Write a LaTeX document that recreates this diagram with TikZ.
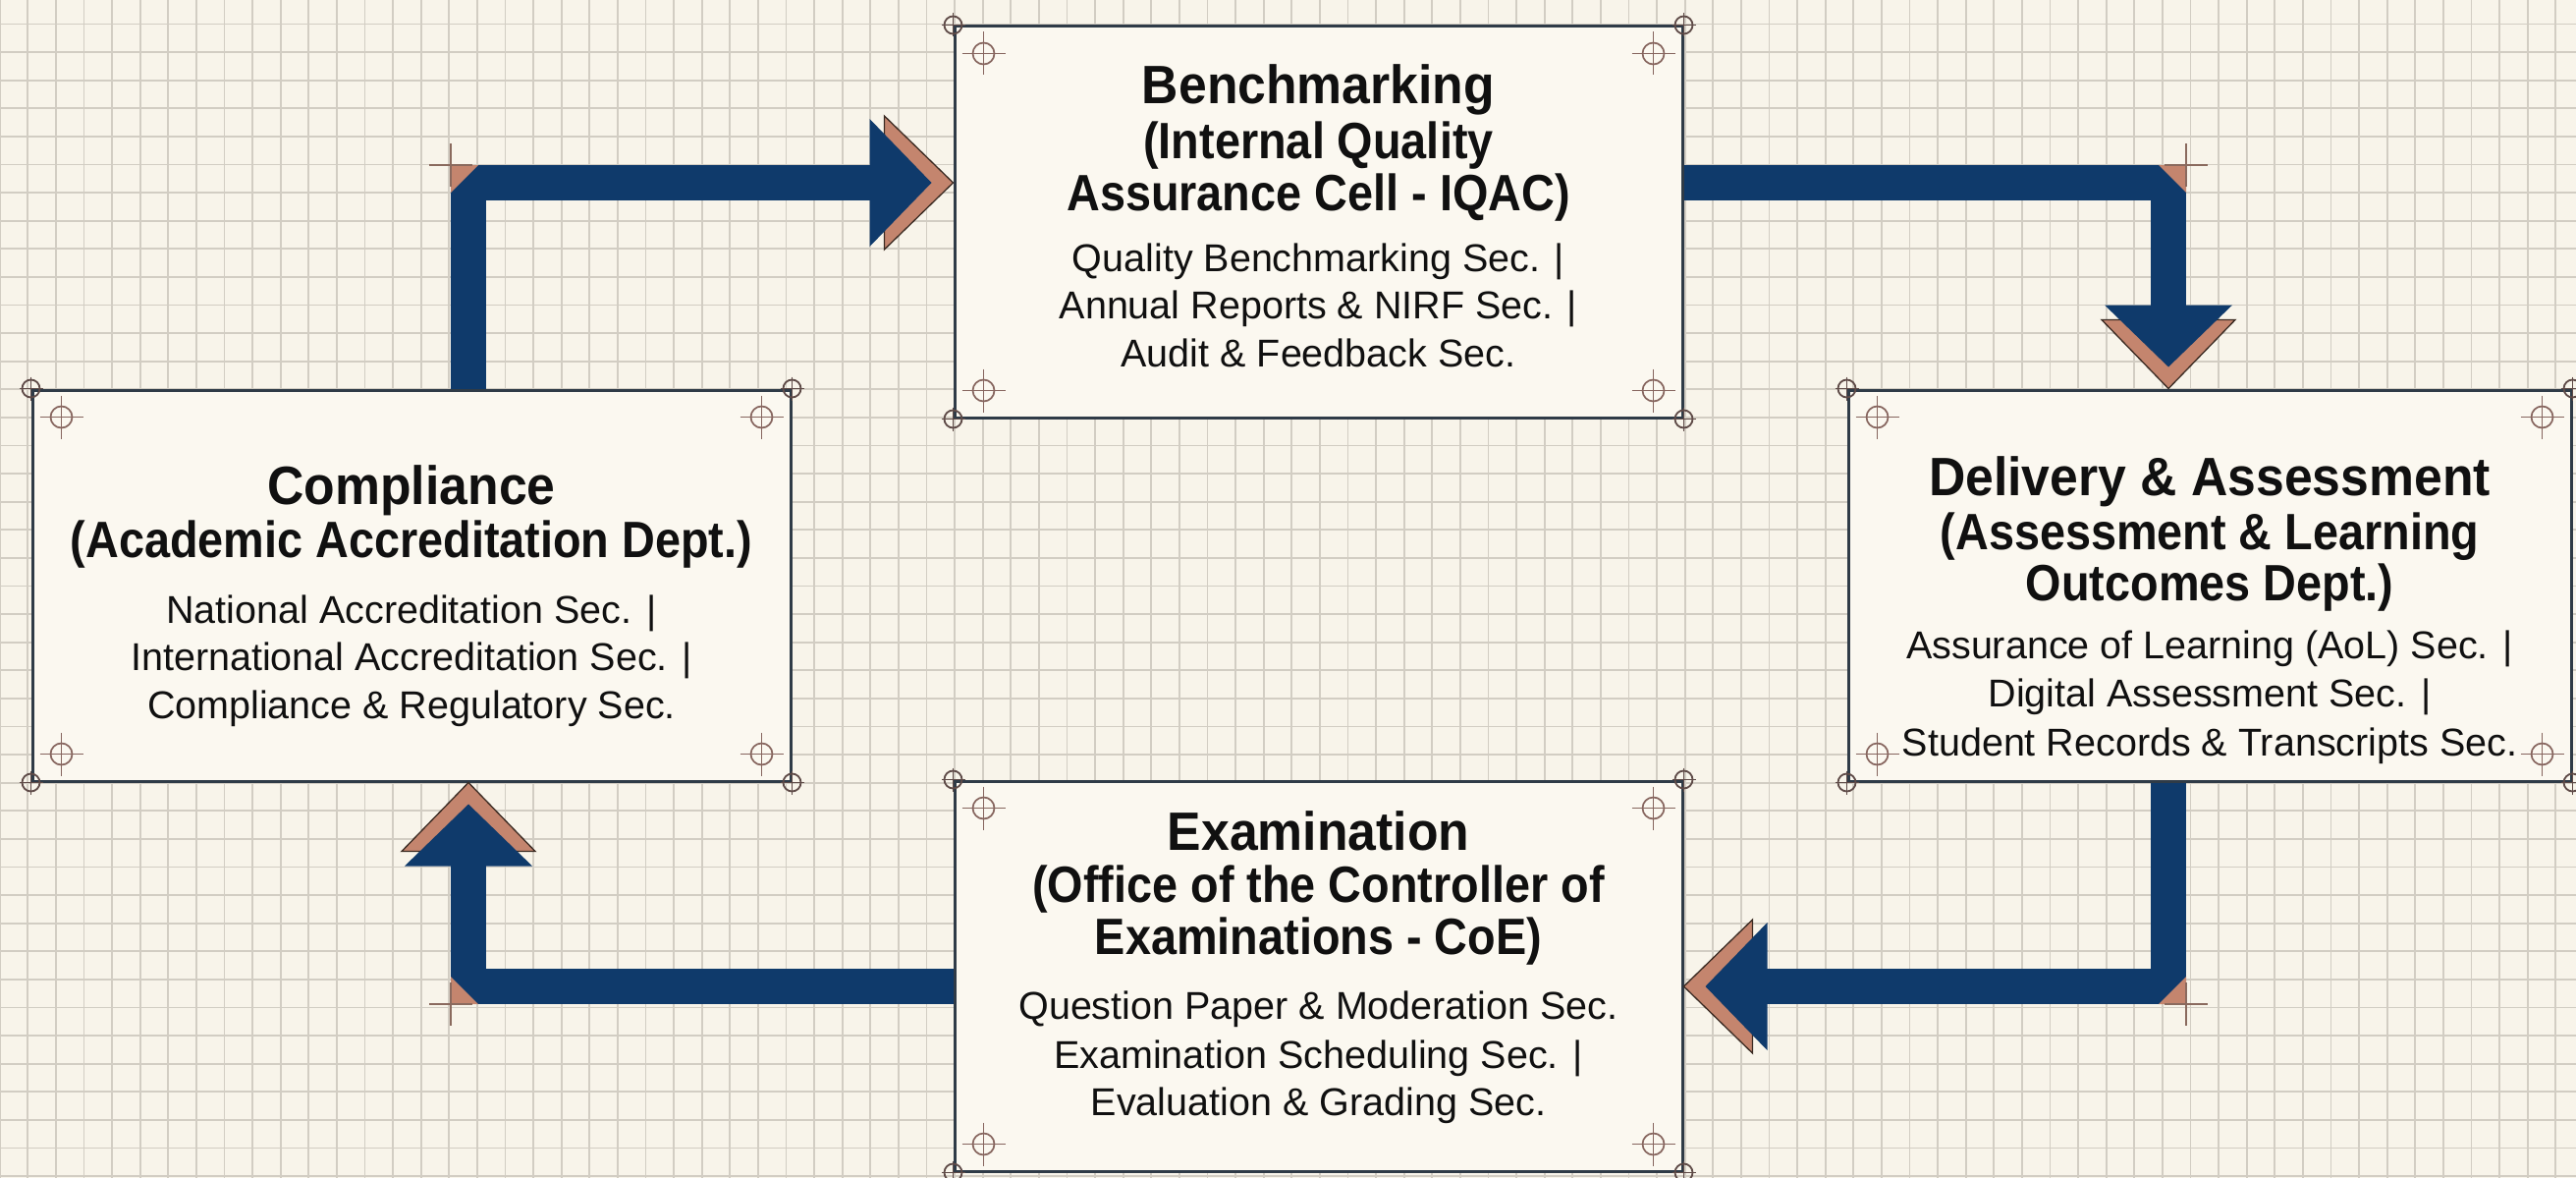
\documentclass[tikz,border=0pt]{standalone}
\usepackage{fontspec}
\setmainfont{Liberation Sans}
\newfontfamily\ttlfont[FakeStretch=0.94]{Liberation Sans}
\newfontfamily\subfont[FakeStretch=0.9]{Liberation Sans}
\usetikzlibrary{calc}
\definecolor{bgc}{HTML}{F8F4EA}
\definecolor{boxfill}{HTML}{FBF8F0}
\definecolor{gridc}{HTML}{D2CDC3}
\definecolor{navy}{HTML}{0F3A6B}
\definecolor{tanc}{HTML}{C4856E}
\definecolor{tanline}{HTML}{3A2A22}
\definecolor{borderc}{HTML}{2F3B47}
\definecolor{markc}{HTML}{5E4A47}
\definecolor{targc}{HTML}{86655E}
\definecolor{crossc}{HTML}{8A6A5E}
\definecolor{inkc}{HTML}{101010}
\tikzset{
  gridline/.style={draw=gridc, line width=1.8},
  box/.style={draw=borderc, fill=boxfill, line width=3, rectangle, inner sep=0},
  ttl/.style={anchor=base, inner sep=0, text=inkc, font=\ttlfont\bfseries\fontsize{55}{60}\selectfont},
  subt/.style={anchor=base, inner sep=0, text=inkc, font=\subfont\bfseries\fontsize{52}{56}\selectfont},
  bod/.style={anchor=base, inner sep=0, text=inkc, font=\fontsize{39.5}{45}\selectfont},
  bar/.style={draw=navy, line width=36, line join=miter, line cap=butt},
  headtan/.style={fill=tanc, draw=tanline, line width=1.3, line join=miter},
  headnavy/.style={fill=navy},
  elbowtan/.style={fill=tanc},
  elbowcross/.style={draw=crossc, line width=1.6},
  regmark/.pic={\draw[markc, line width=1.8] (0,0) circle (9);
                \draw[markc, line width=1.5] (-12,0) -- (12,0) (0,-12) -- (0,12);},
  target/.pic={\draw[targc, line width=1.7] (0,0) circle (11);
               \draw[targc, line width=1.5] (-22,0) -- (22,0) (0,-22) -- (0,22);}
}
\newcommand\flowhead[2]{%
  \begin{scope}[shift={(#1)}, rotate=#2]
    \path[headtan] (0,0) -- (-70,68) -- (-70,-68) -- cycle;
    \path[headnavy] (-22,0) -- (-85,65) -- (-85,-65) -- cycle;
  \end{scope}}
\newcommand\boxmarks[1]{%
  \pic at (#1.north west) {regmark};
  \pic at (#1.north east) {regmark};
  \pic at (#1.south west) {regmark};
  \pic at (#1.south east) {regmark};
  \pic at ($(#1.north west)+(31,29)$) {target};
  \pic at ($(#1.north east)+(-31,29)$) {target};
  \pic at ($(#1.south west)+(31,-29)$) {target};
  \pic at ($(#1.south east)+(-31,-29)$) {target};}
\newcommand\elbow[3]{% outer corner, dx, dy
  \path[elbowtan] (#1) -- ++(#2*28,0) -- ++(-#2*28,#3*28) -- cycle;
  \path[elbowcross] ($(#1)+(-22,0)$) -- ($(#1)+(22,0)$) ($(#1)+(0,-22)$) -- ($(#1)+(0,22)$);}
\begin{document}
\begin{tikzpicture}[x=1pt,y=-1pt]
\useasboundingbox (0,0) rectangle (2623,1199);
\fill[bgc] (0,0) rectangle (2623,1199);
\foreach \i in {0,...,92} \draw[gridline] ({\i*28.6-0.4},0) -- ({\i*28.6-0.4},1199);
\foreach \j in {0,...,42} \draw[gridline] (0,{\j*28.6+24.5-28.6}) -- (2623,{\j*28.6+24.5-28.6});

% boxes
\node[box, minimum width=741pt, minimum height=398pt] (bench) at (1342.5,226) {};
\node[box, minimum width=772pt, minimum height=398pt] (comp) at (419,596) {};
\node[box, minimum width=736pt, minimum height=398pt] (deliv) at (2250,596) {};
\node[box, minimum width=741pt, minimum height=397pt] (exam) at (1342.5,993.5) {};

\boxmarks{bench}
\boxmarks{comp}
\boxmarks{deliv}
\boxmarks{exam}

% texts
\node[ttl]  (bt1) at (1342.5,105) {Benchmarking};
\node[subt] (bt2) at (1342.5,161) {(Internal Quality};
\node[subt] (bt3) at (1342.5,214) {Assurance Cell - IQAC)};
\node[bod]  (bb1) at (1342.5,276) {Quality Benchmarking Sec. |};
\node[bod]  (bb2) at (1342.5,324) {Annual Reports \& NIRF Sec. |};
\node[bod]  (bb3) at (1342.5,373) {Audit \& Feedback Sec.};

\node[ttl]  (ct1) at (419,513) {Compliance};
\node[subt] (ct2) at (419,567) {(Academic Accreditation Dept.)};
\node[bod]  (cb1) at (419,634) {National Accreditation Sec. |};
\node[bod]  (cb2) at (419,682) {International Accreditation Sec. |};
\node[bod]  (cb3) at (419,731) {Compliance \& Regulatory Sec.};

\node[ttl]  (dt1) at (2250,504) {Delivery \& Assessment};
\node[subt] (dt2) at (2250,559) {(Assessment \& Learning};
\node[subt] (dt3) at (2250,611) {Outcomes Dept.)};
\node[bod]  (db1) at (2250,670) {Assurance of Learning (AoL) Sec. |};
\node[bod]  (db2) at (2250,719) {Digital Assessment Sec. |};
\node[bod]  (db3) at (2250,769) {Student Records \& Transcripts Sec.};

\node[ttl]  (et1) at (1342.5,865) {Examination};
\node[subt] (et2) at (1342.5,918) {(Office of the Controller of};
\node[subt] (et3) at (1342.5,971) {Examinations - CoE)};
\node[bod]  (eb1) at (1342.5,1037) {Question Paper \& Moderation Sec.};
\node[bod]  (eb2) at (1342.5,1087) {Examination Scheduling Sec. |};
\node[bod]  (eb3) at (1342.5,1135) {Evaluation \& Grading Sec.};

% elbows
\coordinate (k1) at (477,186);
\coordinate (k2) at (2208,186);
\coordinate (k3) at (2208,1004);
\coordinate (k4) at (477,1004);
% arrow tips
\coordinate (t1) at (k1 -| bench.west);
\coordinate (t2) at (k2 |- deliv.north);
\coordinate (t3) at (k3 -| exam.east);
\coordinate (t4) at (k4 |- comp.south);

% connectors
\draw[bar] (comp.north -| k1) -- (k1) -- ($(t1)+(-80,0)$);
\draw[bar] (bench.east |- k2) -- (k2) -- ($(t2)+(0,-80)$);
\draw[bar] (deliv.south -| k3) -- (k3) -- ($(t3)+(80,0)$);
\draw[bar] (exam.west |- k4) -- (k4) -- ($(t4)+(0,80)$);

\flowhead{t1}{0}
\flowhead{t2}{-90}
\flowhead{t3}{180}
\flowhead{t4}{90}

\coordinate (o1) at ($(k1)+(-18,-18)$);
\coordinate (o2) at ($(k2)+(18,-18)$);
\coordinate (o3) at ($(k3)+(18,18)$);
\coordinate (o4) at ($(k4)+(-18,18)$);
\elbow{o1}{1}{1}
\elbow{o2}{-1}{1}
\elbow{o3}{-1}{-1}
\elbow{o4}{1}{-1}
\end{tikzpicture}
\end{document}
